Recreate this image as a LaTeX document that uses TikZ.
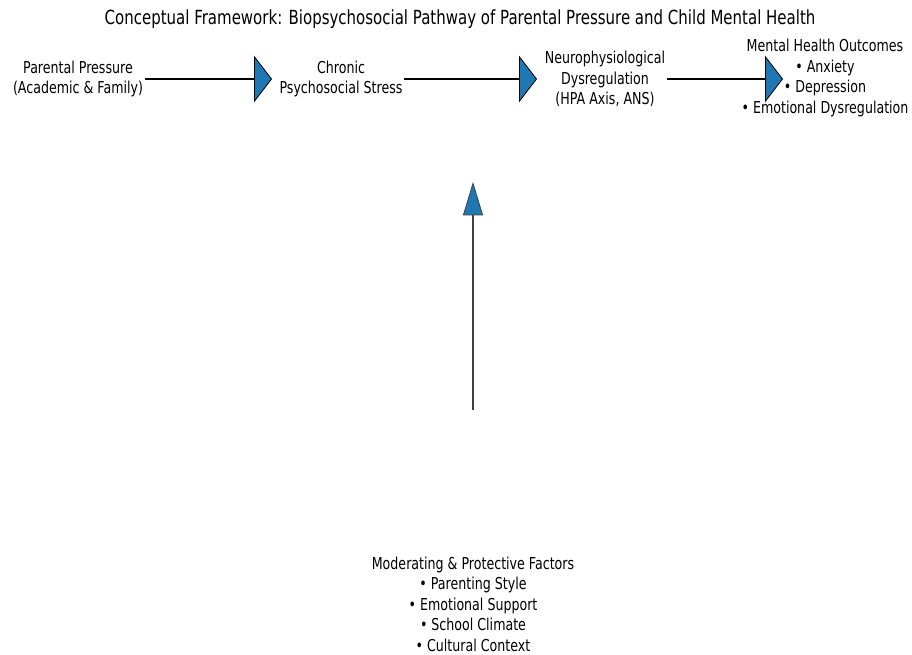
\documentclass[tikz,border=0pt]{standalone}
\usepackage{fontspec}
\setmainfont[FakeStretch=0.77]{DejaVu Sans}
\usetikzlibrary{arrows.meta}
\definecolor{headblue}{RGB}{31,119,180}
\tikzset{
  lbl/.style={align=center, inner sep=1pt, font=\fontsize{12.3}{15.4}\selectfont},
  flow/.style={line width=2.2pt, -{Triangle[length=13.5pt, width=35pt, fill=headblue, line width=0.6pt]}},
  lift/.style={line width=1.5pt, draw=black!75, -{Triangle[length=25pt, width=15pt, fill=headblue, line width=0.6pt]}}
}
\begin{document}
\begin{tikzpicture}[x=0.75pt, y=-0.75pt]
\useasboundingbox (0,0) rectangle (912,654);
\node(Title)[lbl, font=\fontsize{14.6}{17}\selectfont] at (460,19) {Conceptual Framework: Biopsychosocial Pathway of Parental Pressure and Child Mental Health};

\node(PP)[lbl] at (78,79) {Parental Pressure\\(Academic \& Family)};
\node(CS)[lbl] at (341,79) {Chronic\\Psychosocial Stress};
\node(ND)[lbl] at (605,79) {Neurophysiological\\Dysregulation\\(HPA Axis, ANS)};
\node(MH)[lbl] at (825,78) {Mental Health Outcomes\\\textbullet{} Anxiety\\\textbullet{} Depression\\\textbullet{} Emotional Dysregulation};
\node(MP)[lbl] at (473,604) {Moderating \& Protective Factors\\\textbullet{} Parenting Style\\\textbullet{} Emotional Support\\\textbullet{} School Climate\\\textbullet{} Cultural Context};

\coordinate(TipA) at (272,79);
\coordinate(TipB) at (537,79);
\coordinate(TipC) at (783,79);
\coordinate(MPtail) at (473,410);
\coordinate(MPtip) at (473,182);

\draw[flow] (PP.east |- TipA) -- (TipA);
\draw[flow] (CS.east |- TipB) -- (TipB);
\draw[flow] (ND.east |- TipC) -- (TipC);
\draw[lift] (MPtail) -- (MPtip);
\end{tikzpicture}
\end{document}
